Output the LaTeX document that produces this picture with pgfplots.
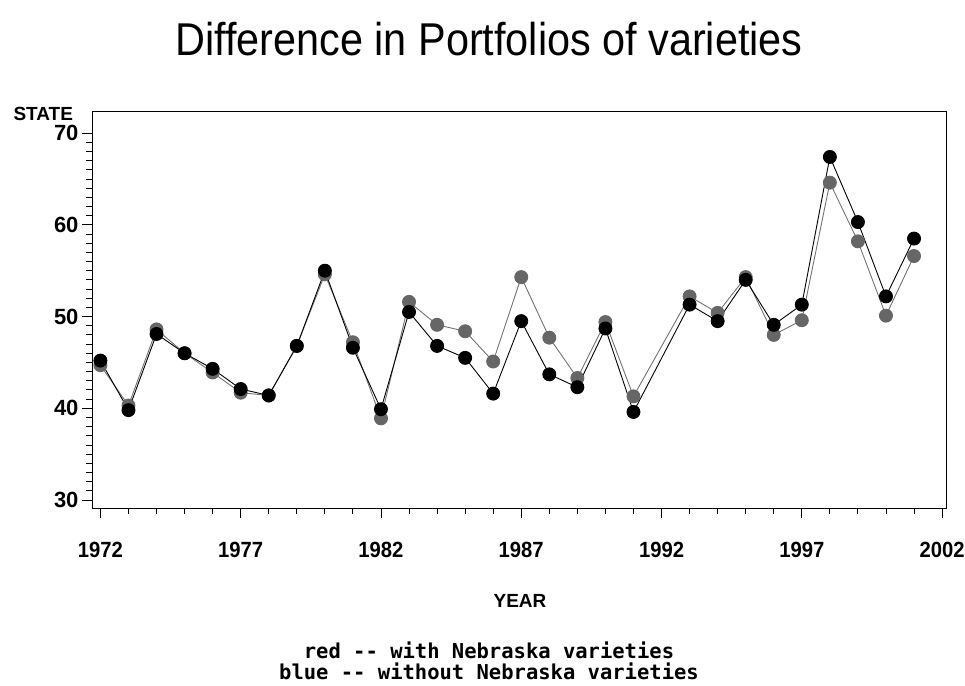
\documentclass[border=0pt]{standalone}
\usepackage{pgfplots}
\pgfplotsset{compat=1.18}
\usepackage{fontspec}
\setmainfont{Liberation Sans}
\newfontfamily\monofont{DejaVu Sans Mono}
\pgfplotstableread{
year val
1972 45.2
1973 39.8
1974 48.1
1975 46.0
1976 44.3
1977 42.1
1978 41.4
1979 46.8
1980 55.0
1981 46.6
1982 39.9
1983 50.5
1984 46.8
1985 45.5
1986 41.6
1987 49.5
1988 43.7
1989 42.3
1990 48.7
1991 39.6
1993 51.3
1994 49.5
1995 54.0
1996 49.1
1997 51.3
1998 67.4
1999 60.3
2000 52.2
2001 58.5
}\withNE
\pgfplotstableread{
year val
1972 44.7
1973 40.3
1974 48.6
1975 46.0
1976 43.9
1977 41.7
1978 41.4
1979 46.8
1980 54.6
1981 47.2
1982 38.9
1983 51.6
1984 49.1
1985 48.4
1986 45.1
1987 54.3
1988 47.7
1989 43.3
1990 49.4
1991 41.3
1993 52.2
1994 50.4
1995 54.3
1996 48.0
1997 49.6
1998 64.6
1999 58.2
2000 50.1
2001 56.6
}\withoutNE
\begin{document}
\begin{tikzpicture}[x=1pt,y=1pt]
\useasboundingbox (0,0) rectangle (965,685);
\begin{axis}[
  at={(92pt,177pt)}, anchor=south west,
  scale only axis, width=854pt, height=396pt,
  xmin=1971.7, xmax=2002.14, ymin=29.13, ymax=72.3,
  xtick={1972,1977,...,2002}, minor x tick num=4,
  ytick={30,40,...,70}, minor y tick num=9,
  tick pos=left, tick align=outside,
  major tick length=10pt, minor tick length=6pt,
  axis line style={line width=1pt}, tick style={line width=0.9pt, black},
  /pgf/number format/assume math mode=true,
  /pgf/number format/1000 sep={},
  ticklabel style={font=\bfseries\fontsize{22}{22}\selectfont},
  xticklabel style={yshift=-21pt, xscale=0.92},
  yticklabel style={xshift=0pt},
  clip=false,
]
\addplot[line width=0.9pt, black!55, mark=*, mark size=6.5pt, mark options={fill=black!60, draw=black!60}] table[x=year,y=val] {\withoutNE};
\addplot[line width=0.9pt, black, mark=*, mark size=6.5pt, mark options={fill=black, draw=black}] table[x=year,y=val] {\withNE};
\end{axis}
\node at (489,646) {\scalebox{0.9}[1]{\fontsize{46}{46}\selectfont Difference in Portfolios of varieties}};
\node[anchor=west] at (10,571) {\bfseries\fontsize{19}{19}\selectfont STATE};
\node at (520,84) {\bfseries\fontsize{19}{19}\selectfont YEAR};
\node[align=center, font=\monofont\bfseries\fontsize{20.5}{21.5}\selectfont] at (489,24) {red -- with Nebraska varieties\\blue -- without Nebraska varieties};
\end{tikzpicture}
\end{document}
